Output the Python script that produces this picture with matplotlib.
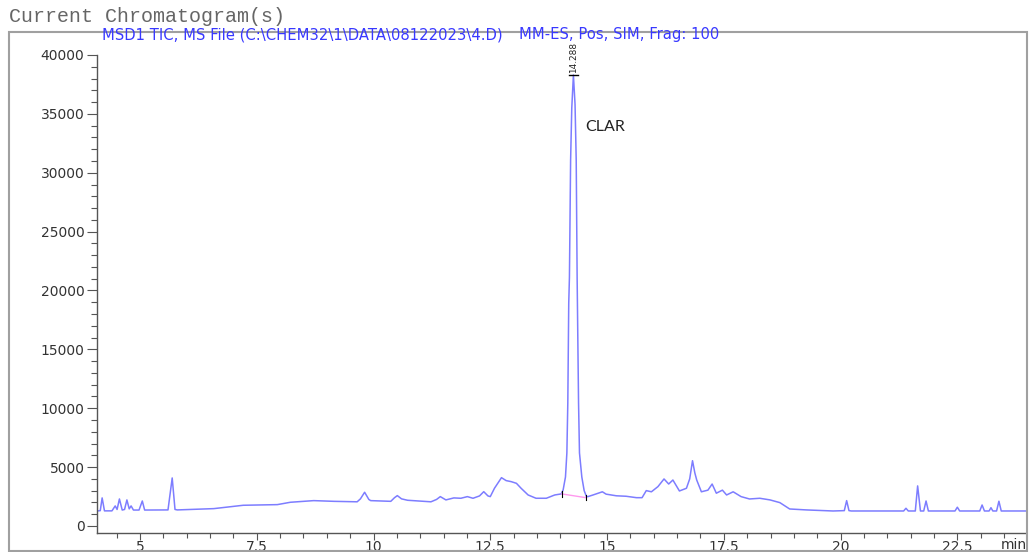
import matplotlib
matplotlib.use("Agg")
import matplotlib.pyplot as plt
from matplotlib.patches import Rectangle
from matplotlib.ticker import MultipleLocator

# retention time (min) and abundance
time_min = [4.08, 4.15, 4.19, 4.24, 4.40, 4.47, 4.51, 4.56, 4.62, 4.67, 4.72, 4.77,
            4.81, 4.86, 4.98, 5.05, 5.10, 5.60, 5.69, 5.75, 5.80, 6.58, 7.21, 7.94,
            8.22, 8.72, 9.15, 9.65, 9.72, 9.81, 9.90, 9.94, 10.37, 10.45, 10.51, 10.60,
            10.73, 11.23, 11.35, 11.43, 11.55, 11.72, 11.87, 12.01, 12.13, 12.27, 12.36,
            12.45, 12.50, 12.59, 12.74, 12.84, 12.95, 13.06, 13.16, 13.31, 13.48, 13.70,
            13.88, 14.02, 14.06, 14.11, 14.14, 14.16, 14.18, 14.195, 14.22, 14.245,
            14.28, 14.315, 14.34, 14.36, 14.39, 14.41, 14.46, 14.51, 14.56, 14.59,
            14.70, 14.90, 14.98, 15.20, 15.41, 15.63, 15.75, 15.84, 15.95, 16.09, 16.22,
            16.32, 16.41, 16.55, 16.70, 16.77, 16.83, 16.88, 16.92, 17.02, 17.16, 17.25,
            17.34, 17.47, 17.56, 17.70, 17.87, 18.05, 18.27, 18.49, 18.70, 18.91, 19.27,
            19.84, 20.08, 20.13, 20.18, 20.23, 21.35, 21.40, 21.45, 21.60, 21.65, 21.71,
            21.78, 21.83, 21.88, 22.45, 22.50, 22.55, 22.98, 23.03, 23.08, 23.18, 23.22,
            23.26, 23.34, 23.39, 23.44, 23.97]
abundance = [1270, 1300, 2380, 1280, 1280, 1700, 1400, 2290, 1350, 1400, 2210, 1450,
             1700, 1350, 1350, 2120, 1350, 1360, 4075, 1400, 1360, 1470, 1755, 1810,
             2010, 2150, 2090, 2050, 2300, 2860, 2250, 2150, 2090, 2400, 2575, 2300,
             2180, 2050, 2250, 2490, 2210, 2380, 2350, 2490, 2350, 2550, 2910,
             2550, 2490, 3200, 4100, 3850, 3760, 3620, 3200, 2630, 2350, 2350,
             2630, 2720, 3060, 4160, 6200, 10440, 18930, 21140, 31070, 35500,
             38300, 35800, 31070, 21000, 10440, 6200, 4160, 3000, 2490, 2490,
             2630, 2900, 2700, 2560, 2520, 2400, 2400, 3000, 2900, 3340, 3990,
             3560, 3900, 2970, 3200, 4000, 5540, 4500, 3900, 2900, 3040, 3560,
             2780, 3040, 2630, 2900, 2490, 2290, 2350, 2210, 1980, 1440, 1360,
             1270, 1300, 2150, 1300, 1270, 1270, 1500, 1270, 1270, 3400, 1270,
             1270, 2120, 1270, 1270, 1590, 1270, 1270, 1780, 1270, 1270, 1550,
             1270, 1270, 2100, 1270, 1270]

# integration baseline of the main peak
base_t = [14.03, 14.55]
base_v = [2720, 2400]

peak_rt = 14.28
peak_top = 38300
peak_label = "14.288"
compound = "CLAR"

fig = plt.figure(figsize=(10.35, 5.52), dpi=100)
ax = fig.add_axes([97 / 1035, 1 - 533 / 552, 929 / 1035, (533 - 55) / 552])

ax.plot(time_min, abundance, color="#5c5cff", lw=1.1, alpha=0.8)
ax.plot(base_t, base_v, color="#ff99ee", lw=1.0)
for t, v in zip(base_t, base_v):
    ax.plot([t, t], [v - 220, v + 220], color="black", lw=0.8)

# apex marker and retention time label
ax.plot([peak_rt - 0.1, peak_rt + 0.1], [peak_top, peak_top], color="black", lw=1.0)
ax.text(peak_rt, peak_top + 150, peak_label, rotation=90, ha="center", va="bottom",
        fontsize=6.4, color="#222222", family="DejaVu Sans", clip_on=False)
ax.text(14.54, 33900, compound, fontsize=11.5, family="Lato", color="#222222",
        ha="left", va="center")

ax.set_xlim(4.08, 23.97)
ax.set_ylim(-600, 40000)
ax.xaxis.set_major_locator(MultipleLocator(2.5))
ax.xaxis.set_minor_locator(MultipleLocator(0.5))
ax.yaxis.set_major_locator(MultipleLocator(5000))
ax.yaxis.set_minor_locator(MultipleLocator(1000))
ax.xaxis.set_major_formatter(plt.FuncFormatter(lambda x, p: f"{x:g}"))

for s in ["top", "right"]:
    ax.spines[s].set_visible(False)
for s in ["left", "bottom"]:
    ax.spines[s].set_color("#555555")
    ax.spines[s].set_linewidth(1.0)

ax.tick_params(which="major", length=7, width=0.8, color="#555555",
               labelsize=10, labelcolor="#333333", pad=2)
ax.tick_params(which="minor", length=4, width=0.8, color="#555555")
ax.tick_params(axis="x", which="major", length=5, pad=0)
ax.tick_params(axis="x", which="minor", length=3.5)
for lab in ax.get_xticklabels() + ax.get_yticklabels():
    lab.set_family("DejaVu Sans")

fig.text(1014 / 1035, 1 - 545 / 552, "min", fontsize=10, color="#333333",
         ha="center", va="center")

# header texts
fig.text(9 / 1035, 1 - 17 / 552, "Current Chromatogram(s)", family="Liberation Mono",
         fontsize=14.4, color="#666666", ha="left", va="center")
fig.text(102 / 1035, 1 - 35 / 552, r"MSD1 TIC, MS File (C:\CHEM32\1\DATA\08122023\4.D)",
         family="DejaVu Sans", fontsize=10.6, color="#3838ff", ha="left", va="center")
fig.text(519 / 1035, 1 - 35 / 552, "MM-ES, Pos, SIM, Frag: 100",
         family="DejaVu Sans", fontsize=10.6, color="#3838ff", ha="left", va="center")

# outer frame
fig.patches.append(Rectangle((9 / 1035, 1.5 / 552), 1018 / 1035, 519 / 552,
                             transform=fig.transFigure, fill=False,
                             edgecolor="#a0a0a0", lw=1.5))

fig.savefig("out.png", dpi=100)
